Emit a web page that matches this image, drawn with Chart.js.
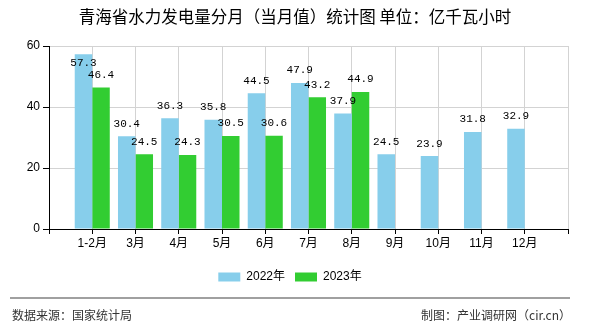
<!DOCTYPE html>
<html>
<head>
<meta charset="utf-8">
<script src="https://cdn.jsdelivr.net/npm/chart.js@4/dist/chart.umd.min.js"></script>
<style>
    html, body { margin: 0; padding: 0; background: #fff; }
    #wrap { width: 590px; height: 330px; }
</style>
</head>
<body>
<div id="wrap"><canvas id="chart" width="590" height="330"></canvas></div>
<script>
const categories = ['1-2月', '3月', '4月', '5月', '6月', '7月', '8月', '9月', '10月', '11月', '12月'];
const values2022 = [57.3, 30.4, 36.3, 35.8, 44.5, 47.9, 37.9, 24.5, 23.9, 31.8, 32.9];
const values2023 = [46.4, 24.5, 24.3, 30.5, 30.6, 43.2, 44.9, null, null, null, null];
const yTicks = [0, 20, 40, 60];

const CJK = '"Liberation Sans", "Noto Sans CJK SC", sans-serif';

// blank slots at both ends leave a full column of space left and right
const labels = [''].concat(categories, ['']);
function pad(values) {
    return [null].concat(values, [null]);
}

// value text over each bar
const valueLabels = {
    id: 'valueLabels',
    afterDatasetsDraw(chart) {
        const ctx = chart.ctx;
        const top = chart.chartArea.top;
        ctx.save();
        ctx.font = '11px "Liberation Mono", monospace';
        ctx.fillStyle = '#000';
        ctx.textAlign = 'center';
        ctx.textBaseline = 'middle';
        chart.data.datasets.forEach((ds, i) => {
            chart.getDatasetMeta(i).data.forEach((bar, j) => {
                const v = ds.data[j];
                if (v === null || v === undefined) return;
                const y = Math.max(bar.y - 12.5, top + 17);
                ctx.fillText(v.toFixed(1), bar.x, y);
            });
        });
        ctx.restore();
    }
};

// heading on top, source line at the bottom
const frame = {
    id: 'frame',
    afterDraw(chart) {
        const ctx = chart.ctx;
        ctx.save();
        ctx.font = '16.5px "Noto Sans CJK SC", sans-serif';
        ctx.fillStyle = '#000';
        ctx.textAlign = 'center';
        ctx.textBaseline = 'middle';
        ctx.fillText('青海省水力发电量分月（当月值）统计图 单位：亿千瓦小时', 295, 17);

        ctx.strokeStyle = '#808080';
        ctx.lineWidth = 1.5;
        ctx.beginPath();
        ctx.moveTo(10, 298);
        ctx.lineTo(570, 298);
        ctx.stroke();
        ctx.font = '12px "Noto Sans CJK SC", sans-serif';
        ctx.fillStyle = '#333';
        ctx.textAlign = 'left';
        ctx.fillText('数据来源：国家统计局', 12, 315);
        ctx.textAlign = 'right';
        ctx.fillText('制图：产业调研网（cir.cn）', 571, 315);
        ctx.restore();
    }
};

new Chart(document.getElementById('chart').getContext('2d'), {
    type: 'bar',
    data: {
        labels: labels,
        datasets: [{
            label: '2022年',
            data: pad(values2022),
            backgroundColor: '#87CEEB'
        }, {
            label: '2023年',
            data: pad(values2023),
            backgroundColor: '#32CD32'
        }]
    },
    options: {
        responsive: false,
        animation: false,
        devicePixelRatio: 1,
        categoryPercentage: 0.81,
        barPercentage: 1,
        layout: {
            padding: { top: 46, left: 12, right: 22, bottom: 37 }
        },
        plugins: {
            title: { display: false },
            legend: {
                position: 'bottom',
                labels: {
                    boxWidth: 22,
                    boxHeight: 9,
                    padding: 10,
                    color: '#000',
                    font: { family: CJK, size: 12 }
                }
            },
            tooltip: { enabled: false }
        },
        scales: {
            x: {
                offset: false,
                grid: { offset: false, color: '#d3d3d3', tickColor: '#000', tickLength: 5 },
                border: { color: '#000' },
                ticks: { color: '#000', font: { family: CJK, size: 12 }, padding: 2, maxRotation: 0, autoSkip: false },
                afterFit(scale) { scale.height = 32; }
            },
            y: {
                min: 0,
                max: 60,
                afterBuildTicks(scale) { scale.ticks = yTicks.map(v => ({ value: v })); },
                grid: { color: '#d3d3d3', tickColor: '#000', tickLength: 6 },
                border: { color: '#000' },
                ticks: { color: '#000', font: { family: CJK, size: 12 }, padding: 3 },
                afterFit(scale) { scale.width = 37; }
            }
        }
    },
    plugins: [valueLabels, frame]
});
</script>
</body>
</html>
